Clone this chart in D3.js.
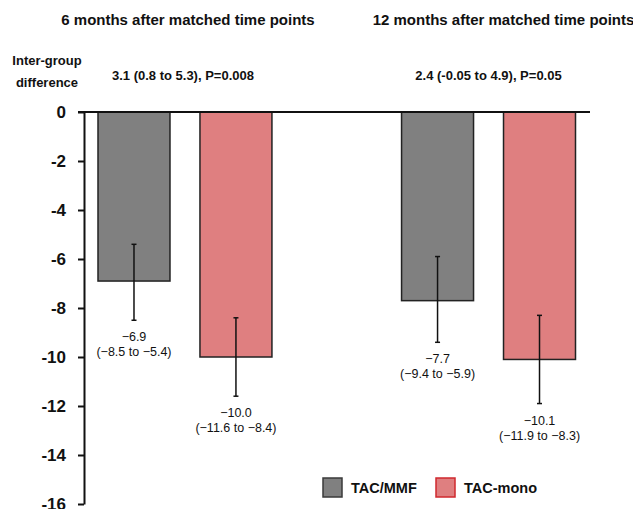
<!DOCTYPE html>
<html><head><meta charset="utf-8">
<script src="https://cdn.jsdelivr.net/npm/d3@7"></script>
<style>body{margin:0;background:#fff}svg{display:block;font-family:"Liberation Sans",Arial,sans-serif}</style>
</head><body>
<script>
const groups = ["6 months after matched time points", "12 months after matched time points"];
const diffs = ["3.1 (0.8 to 5.3), P=0.008", "2.4 (-0.05 to 4.9), P=0.05"];
const series = ["TAC/MMF", "TAC-mono"];
const means = [[-6.9, -10.0], [-7.7, -10.1]];
const ciLow = [[-8.5, -11.6], [-9.4, -11.9]];
const ciHigh = [[-5.4, -8.4], [-5.9, -8.3]];
const yTicks = [0, -2, -4, -6, -8, -10, -12, -14, -16];
const colors = ["#808080", "#df7f80"];
const legendStroke = ["#3a3a3a", "#d0282e"];

const W = 633, H = 509;
const svg = d3.select("body").append("svg").attr("width", W).attr("height", H);

const y = d3.scaleLinear().domain([0, -16]).range([112, 504]);
const x0 = d3.scaleBand().domain(groups).range([98, 575.5]).paddingInner(0.427).paddingOuter(0);
const x1 = d3.scaleBand().domain(series).range([0, x0.bandwidth()]).paddingInner(0.294).paddingOuter(0);

const fmt = v => (v < 0 ? "\u2212" : "") + Math.abs(v).toFixed(1);
const titleShift = [3, 15];
const diffShift = [-2, 0];

// bars
groups.forEach((g, gi) => {
  series.forEach((s, si) => {
    const bx = x0(g) + x1(s), bw = x1.bandwidth();
    svg.append("rect").attr("x", bx).attr("y", y(0)).attr("width", bw)
      .attr("height", y(means[gi][si]) - y(0))
      .attr("fill", colors[si]).attr("stroke", "#222").attr("stroke-width", 1.5);
    const cx = bx + bw / 2;
    svg.append("line").attr("x1", cx).attr("x2", cx).attr("y1", y(ciHigh[gi][si])).attr("y2", y(ciLow[gi][si]))
      .attr("stroke", "#111").attr("stroke-width", 1.5);
    [ciHigh[gi][si], ciLow[gi][si]].forEach(v => {
      svg.append("line").attr("x1", cx - 2.5).attr("x2", cx + 2.5).attr("y1", y(v)).attr("y2", y(v))
        .attr("stroke", "#111").attr("stroke-width", 1.5);
    });
    const ly = y(ciLow[gi][si]) + 21;
    svg.append("text").attr("x", cx).attr("y", ly).attr("text-anchor", "middle")
      .attr("font-size", 12.5).attr("fill", "#111").text(fmt(means[gi][si]));
    svg.append("text").attr("x", cx).attr("y", ly + 15).attr("text-anchor", "middle")
      .attr("font-size", 12.5).attr("fill", "#111")
      .text("(" + fmt(ciLow[gi][si]) + " to " + fmt(ciHigh[gi][si]) + ")");
  });
  const gc = x0(g) + x0.bandwidth() / 2;
  svg.append("text").attr("x", gc + titleShift[gi]).attr("y", 25).attr("text-anchor", "middle")
    .attr("font-size", 15).attr("font-weight", "bold").attr("fill", "#111").text(g);
  svg.append("text").attr("x", gc + diffShift[gi]).attr("y", 80).attr("text-anchor", "middle")
    .attr("font-size", 13).attr("font-weight", "bold").attr("fill", "#111").text(diffs[gi]);
});

// y axis
const yAxis = d3.axisLeft(y).tickValues(yTicks).tickSize(6).tickSizeOuter(0).tickFormat(d => d === 0 ? "0" : "-" + Math.abs(d));
const ga = svg.append("g").attr("transform", "translate(84,0)").call(yAxis);
ga.select(".domain").attr("stroke", "#111").attr("stroke-width", 2);
ga.selectAll(".tick line").attr("stroke", "#111").attr("stroke-width", 2);
ga.selectAll(".tick text").attr("font-size", 17).attr("font-weight", "bold").attr("fill", "#111")
  .attr("font-family", "Liberation Sans, Arial, sans-serif").attr("x", -18);

// zero line
svg.append("line").attr("x1", 78).attr("x2", 590).attr("y1", y(0)).attr("y2", y(0))
  .attr("stroke", "#111").attr("stroke-width", 2);

// inter-group label
svg.append("text").attr("x", 47).attr("y", 65).attr("text-anchor", "middle")
  .attr("font-size", 13).attr("font-weight", "bold").attr("fill", "#111").text("Inter-group");
svg.append("text").attr("x", 47).attr("y", 87).attr("text-anchor", "middle")
  .attr("font-size", 13).attr("font-weight", "bold").attr("fill", "#111").text("difference");

// legend
const legX = [323, 436];
series.forEach((s, si) => {
  svg.append("rect").attr("x", legX[si]).attr("y", 478).attr("width", 19).attr("height", 19)
    .attr("fill", colors[si]).attr("stroke", legendStroke[si]).attr("stroke-width", 1.5);
  svg.append("text").attr("x", legX[si] + 28).attr("y", 493).attr("font-size", 14.5)
    .attr("font-weight", "bold").attr("fill", "#111").text(s);
});
</script>
</body></html>
